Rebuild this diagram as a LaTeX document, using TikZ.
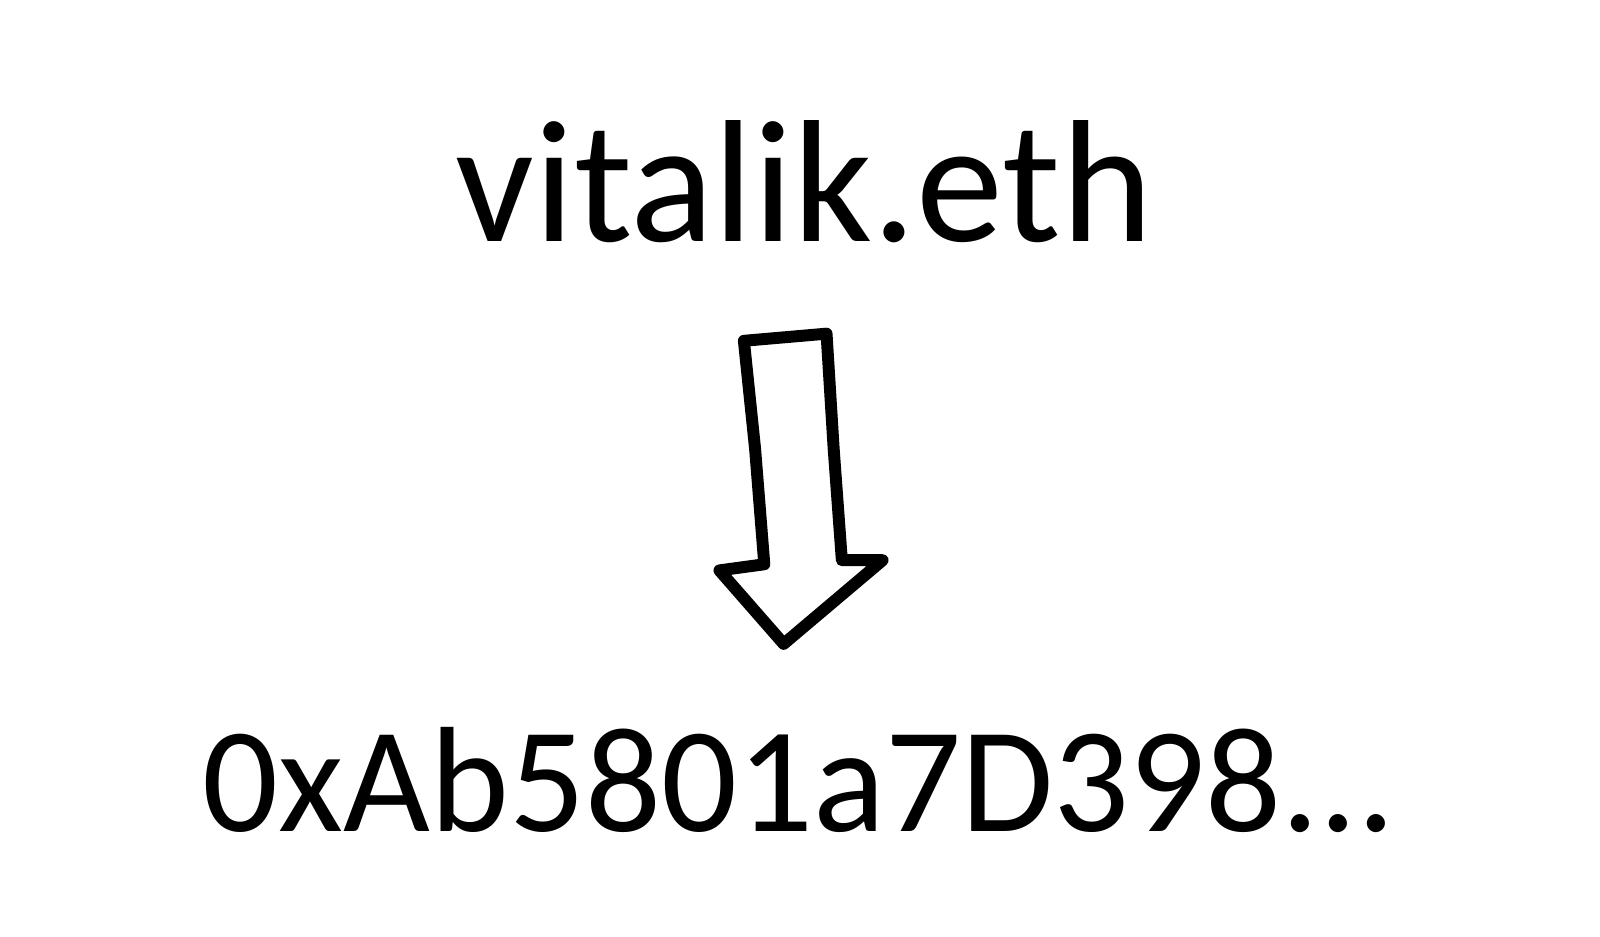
\documentclass[tikz,border=0pt]{standalone}
\usepackage{fontspec}
\setmainfont{Carlito}
\begin{document}
\begin{tikzpicture}[x=0.010204cm, y=-0.010204cm, line join=round, line cap=round,
		label/.style={anchor=base, inner sep=0pt}]
	\useasboundingbox (0,0) rectangle (1568,918);
	\node[label, font=\fontsize{49.6}{52}\selectfont] (name) at (788,237) {vitalik.eth};
	\node[label, font=\fontsize{42.7}{45}\selectfont] (addr) at (783,815) {0xAb5801a7D398...};
	% hand drawn block arrow
	\draw[line width=3.4pt]
		(729,334) -- (810,327) -- (817,440) -- (825,549) -- (865,549)
		-- (768,631) -- (705,559) -- (749,553) -- (740,440) -- cycle;
\end{tikzpicture}
\end{document}
